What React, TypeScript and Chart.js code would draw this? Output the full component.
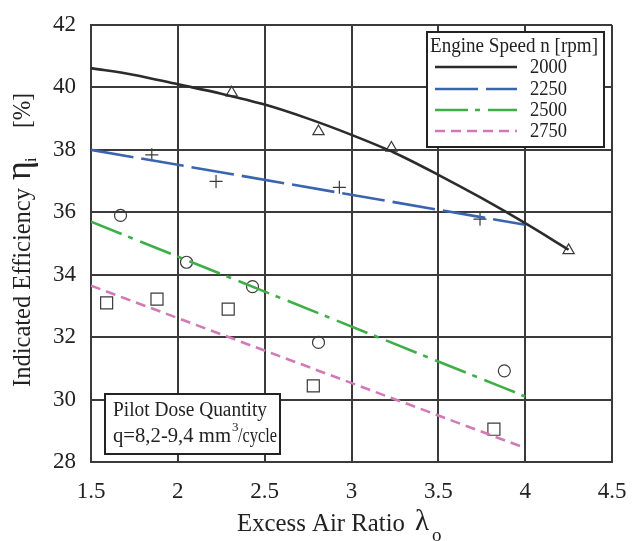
import React, { useEffect, useRef } from "react";
import { Chart, registerables } from "chart.js";
Chart.register(...registerables);

const xMin = 1.5, xMax = 4.5, xStep = 0.5;
const yMin = 28, yMax = 42, yStep = 2;

const seriesNames = ["2000", "2250", "2500", "2750"];
const seriesColors = ["#2b2b2b", "#3a64b0", "#3fae49", "#d27ab8"];
const seriesDash: number[][] = [[], [43, 8], [33, 7, 5, 8], [10, 6]];

const pts2000X = [2.31, 2.81, 3.23, 4.25];
const pts2000Y = [39.83, 38.59, 38.06, 34.78];
const pts2250X = [1.85, 2.22, 2.93, 3.74];
const pts2250Y = [37.84, 36.99, 36.8, 35.78];
const pts2500X = [1.67, 2.05, 2.43, 2.81, 3.88];
const pts2500Y = [35.9, 34.4, 33.62, 31.83, 30.92];
const pts2750X = [1.59, 1.88, 2.29, 2.78, 3.82];
const pts2750Y = [33.1, 33.22, 32.9, 30.44, 29.05];

const fit2000X = [1.5, 1.75, 2, 2.25, 2.5, 2.75, 3, 3.25, 3.5, 3.75, 4, 4.25];
const fit2000Y = [40.62, 40.4, 40.1, 39.8, 39.45, 39.0, 38.48, 37.9, 37.2, 36.45, 35.65, 34.8];
const fit2250X = [1.5, 4];
const fit2250Y = [38.0, 35.6];
const fit2500X = [1.5, 4];
const fit2500Y = [35.7, 30.1];
const fit2750X = [1.5, 4];
const fit2750Y = [33.65, 28.45];

const markerStyles = ["triangle", "cross", "circle", "rect"];
const markerRadius = [6.5, 6.5, 6, 8.5];

const xTitle = "Excess Air Ratio";
const yTitle = "Indicated Efficiency";
const legendTitle = "Engine Speed n [rpm]";
const noteLine1 = "Pilot Dose Quantity";
const noteLine2a = "q=8,2-9,4 mm";
const noteLine2b = "/cycle";

const SERIF = "'Liberation Serif', 'Times New Roman', serif";
const INK = "#222222";

function zip(xs: number[], ys: number[]) {
  return xs.map((x, i) => ({ x, y: ys[i] }));
}

function fitText(ctx: CanvasRenderingContext2D, text: string, x: number, y: number, w: number) {
  const m = ctx.measureText(text).width;
  ctx.save();
  ctx.translate(x, y);
  ctx.scale(w / m, 1);
  ctx.fillText(text, 0, 0);
  ctx.restore();
}

const overlay = {
  id: "overlay",
  afterDraw(chart: any) {
    const ctx: CanvasRenderingContext2D = chart.ctx;
    ctx.save();
    ctx.fillStyle = INK;
    ctx.textBaseline = "middle";
    ctx.textAlign = "left";

    // Legend box
    const lx = 427, ly = 32, lw = 177, lh = 115;
    ctx.fillStyle = "#ffffff";
    ctx.fillRect(lx, ly, lw, lh);
    ctx.strokeStyle = INK;
    ctx.lineWidth = 2;
    ctx.strokeRect(lx, ly, lw, lh);
    ctx.fillStyle = INK;
    ctx.font = `20px ${SERIF}`;
    fitText(ctx, legendTitle, 430, 47, 168);
    const rows = [67, 89, 110, 131];
    ctx.font = `21px ${SERIF}`;
    rows.forEach((ry, i) => {
      ctx.save();
      ctx.strokeStyle = seriesColors[i];
      ctx.lineWidth = 2.6;
      ctx.setLineDash(seriesDash[i]);
      ctx.beginPath();
      ctx.moveTo(435, ry);
      ctx.lineTo(517, ry);
      ctx.stroke();
      ctx.restore();
      ctx.fillStyle = INK;
      fitText(ctx, seriesNames[i], 530, ry, 37);
    });

    // Pilot dose box
    const bx = 105, by = 394, bw = 175, bh = 60;
    ctx.fillStyle = "#ffffff";
    ctx.fillRect(bx, by, bw, bh);
    ctx.strokeStyle = INK;
    ctx.lineWidth = 2;
    ctx.strokeRect(bx, by, bw, bh);
    ctx.fillStyle = INK;
    ctx.font = `20px ${SERIF}`;
    fitText(ctx, noteLine1, 113, 411, 154);
    fitText(ctx, noteLine2a, 113, 437, 118);
    ctx.font = `13px ${SERIF}`;
    ctx.fillText("3", 232, 428);
    ctx.font = `20px ${SERIF}`;
    fitText(ctx, noteLine2b, 238, 437, 39);

    // X axis title
    ctx.font = `25px ${SERIF}`;
    fitText(ctx, xTitle, 237, 524, 168);
    ctx.font = `29px ${SERIF}`;
    ctx.fillText("λ", 415, 522);
    ctx.font = `19px ${SERIF}`;
    ctx.fillText("o", 432, 536);

    // Y axis title
    ctx.save();
    ctx.translate(23, 387);
    ctx.rotate(-Math.PI / 2);
    ctx.font = `25px ${SERIF}`;
    fitText(ctx, yTitle, 0, 0, 199);
    ctx.font = `36px ${SERIF}`;
    ctx.fillText("η", 207, -2);
    ctx.font = `16px ${SERIF}`;
    ctx.fillText("i", 225, 9);
    ctx.font = `25px ${SERIF}`;
    fitText(ctx, "[%]", 259, 0, 35);
    ctx.restore();

    ctx.restore();
  },
};

export default function App() {
  const ref = useRef<HTMLCanvasElement | null>(null);
  useEffect(() => {
    if (!ref.current) return;
    const ptsX = [pts2000X, pts2250X, pts2500X, pts2750X];
    const ptsY = [pts2000Y, pts2250Y, pts2500Y, pts2750Y];
    const fitX = [fit2000X, fit2250X, fit2500X, fit2750X];
    const fitY = [fit2000Y, fit2250Y, fit2500Y, fit2750Y];
    const datasets: any[] = [];
    seriesNames.forEach((name, i) => {
      datasets.push({
        label: name,
        data: zip(fitX[i], fitY[i]),
        borderColor: seriesColors[i],
        borderWidth: 2.6,
        borderDash: seriesDash[i],
        pointRadius: 0,
        fill: false,
        tension: 0.4,
        cubicInterpolationMode: "monotone",
        showLine: true,
      });
    });
    seriesNames.forEach((name, i) => {
      datasets.push({
        label: name + " measured",
        data: zip(ptsX[i], ptsY[i]),
        showLine: false,
        pointStyle: markerStyles[i],
        pointRadius: markerRadius[i],
        pointBorderColor: "#3a3a3a",
        pointBackgroundColor: "rgba(255,255,255,0)",
        pointBorderWidth: 1.2,
      });
    });
    const chart = new Chart(ref.current, {
      type: "scatter",
      data: { datasets },
      plugins: [overlay],
      options: {
        animation: false,
        responsive: true,
        maintainAspectRatio: false,
        layout: { padding: { top: 25, right: 20, left: 0, bottom: 0 } },
        plugins: { legend: { display: false }, tooltip: { enabled: false } },
        scales: {
          x: {
            type: "linear",
            min: xMin,
            max: xMax,
            ticks: {
              stepSize: xStep,
              color: INK,
              padding: 16,
              font: { family: SERIF, size: 23 },
              callback: (v: any) => String(v),
            },
            grid: { color: "#3a3a3a", lineWidth: 2, drawTicks: false },
            border: { display: true, color: "#3a3a3a", width: 2 },
            afterFit: (s: any) => { s.height = 79; s.paddingLeft = 0; s.paddingRight = 0; },
          },
          y: {
            type: "linear",
            min: yMin,
            max: yMax,
            ticks: {
              stepSize: yStep,
              color: INK,
              padding: 15,
              font: { family: SERIF, size: 23 },
              callback: (v: any) => String(v),
            },
            grid: { color: "#3a3a3a", lineWidth: 2, drawTicks: false },
            border: { display: true, color: "#3a3a3a", width: 2 },
            afterFit: (s: any) => { s.width = 91; s.paddingTop = 0; s.paddingBottom = 0; },
          },
        },
      } as any,
    });
    return () => chart.destroy();
  }, []);
  return (
    <div style={{ position: "fixed", left: 0, top: 0, width: 632, height: 541, background: "#fff" }}>
      <canvas ref={ref} />
    </div>
  );
}
